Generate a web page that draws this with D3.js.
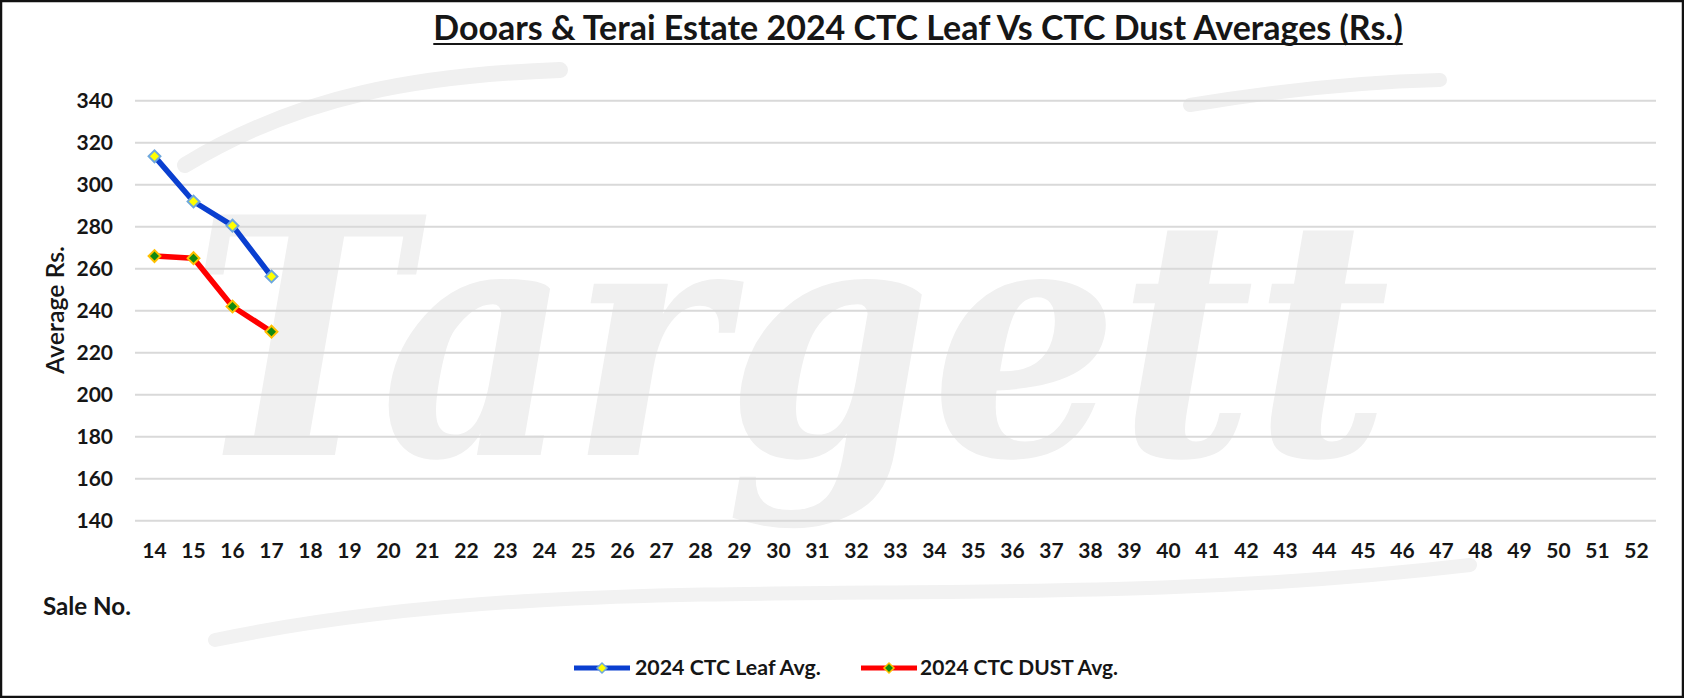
<!DOCTYPE html>
<html><head><meta charset="utf-8">
<script src="https://cdn.jsdelivr.net/npm/d3@7"></script>
<style>html,body{margin:0;padding:0;background:#fff;}svg{display:block;}</style>
</head><body><svg id="c" width="1684" height="698"></svg>
<script>
const saleNos = d3.range(14, 53).map(String);
const leafSales = ["14","15","16","17"];
const leafAvg = [313.5, 292, 280.5, 256.3];
const dustSales = ["14","15","16","17"];
const dustAvg = [266, 265, 242, 230];
const yTicks = [140,160,180,200,220,240,260,280,300,320,340];
const titleText = "Dooars & Terai Estate 2024 CTC Leaf Vs CTC Dust Averages (Rs.)";
const leafName = "2024 CTC Leaf Avg.";
const dustName = "2024 CTC DUST Avg.";

const W = 1684, H = 698;
const svg = d3.select("#c");
const FONT = "Lato, 'Open Sans', sans-serif";
const INK = "#161616";

function fit(sel, target){
  const fs = +sel.attr("font-size");
  const w = sel.node().getComputedTextLength();
  sel.attr("font-size", fs*target/w);
  return sel;
}

svg.append("rect").attr("x",0).attr("y",0).attr("width",W).attr("height",H).attr("fill","#fff");

// watermark
const wm = svg.append("g").attr("pointer-events","none");
wm.append("path").attr("d","M185,165 C300,95 420,75 560,70").attr("fill","none").attr("stroke","#f0f0f0").attr("stroke-width",16).attr("stroke-linecap","round");
wm.append("path").attr("d","M1190,105 C1280,90 1360,82 1440,80").attr("fill","none").attr("stroke","#f0f0f0").attr("stroke-width",14).attr("stroke-linecap","round");
wm.append("path").attr("d","M215,640 C600,560 1000,620 1470,565").attr("fill","none").attr("stroke","#f2f2f2").attr("stroke-width",14).attr("stroke-linecap","round");
wm.append("text").attr("x",190).attr("y",455).attr("font-family","'DejaVu Serif', serif").attr("font-weight","bold").attr("font-style","italic")
  .attr("font-size",330).attr("fill","#f0f0f0").attr("textLength",1200).attr("lengthAdjust","spacingAndGlyphs").text("Targett");

const x = d3.scaleBand().domain(saleNos).range([135, 1656]);
const y = d3.scaleLinear().domain([140, 340]).range([520.7, 100.7]);

// gridlines
svg.append("g").selectAll("line").data(yTicks).join("line")
  .attr("x1",135).attr("x2",1656).attr("y1",d=>y(d)).attr("y2",d=>y(d))
  .attr("stroke","#d9d9d9").attr("stroke-width",2);

// y axis
const yAxis = svg.append("g").attr("transform","translate(122,0)")
  .call(d3.axisLeft(y).tickValues(yTicks).tickSize(0).tickPadding(0));
yAxis.select(".domain").remove();
yAxis.selectAll("text").attr("font-family",FONT).attr("font-weight","bold").attr("font-size",21).attr("fill",INK).attr("x",-9);

// x axis
const xAxis = svg.append("g").attr("transform","translate(0,540)")
  .call(d3.axisBottom(x).tickSize(0).tickPadding(0));
xAxis.select(".domain").remove();
xAxis.selectAll("text").attr("font-family",FONT).attr("font-weight","bold").attr("font-size",21).attr("fill",INK).attr("dy","0.71em").attr("y",3);

// axis titles
fit(svg.append("text").attr("transform","translate(55,310) rotate(-90)").attr("text-anchor","middle").attr("dy","0.35em")
  .attr("font-family",FONT).attr("font-weight","600").attr("font-size",20).attr("fill",INK).text("Average Rs."), 128);
fit(svg.append("text").attr("x",43).attr("y",615).attr("font-family",FONT).attr("font-weight","bold").attr("font-size",19).attr("fill",INK).text("Sale No."), 88);

// title
const t = svg.append("text").attr("x",918).attr("y",40).attr("text-anchor","middle")
  .attr("font-family",FONT).attr("font-weight","bold").attr("font-size",28).attr("fill",INK).text(titleText);
fit(t, 970);
const tb = t.node().getBBox();
svg.append("line").attr("x1",tb.x).attr("x2",tb.x+tb.width).attr("y1",44).attr("y2",44).attr("stroke",INK).attr("stroke-width",2);

// series
const line = d3.line().x(d=>x(d[0])+x.bandwidth()/2).y(d=>y(d[1]));
function drawSeries(sales, vals, color, mFill, mStroke){
  const pts = sales.map((s,i)=>[s, vals[i]]);
  svg.append("path").datum(pts).attr("d",line).attr("fill","none").attr("stroke",color).attr("stroke-width",5.5).attr("stroke-linejoin","round");
  svg.append("g").selectAll("path").data(pts).join("path")
    .attr("d", d3.symbol().type(d3.symbolSquare).size(70))
    .attr("transform",d=>`translate(${x(d[0])+x.bandwidth()/2},${y(d[1])}) rotate(45)`)
    .attr("fill",mFill).attr("stroke",mStroke).attr("stroke-width",2);
}
drawSeries(leafSales, leafAvg, "#0a3fd0", "#ffff00", "#6fa8dc");
drawSeries(dustSales, dustAvg, "#ff0000", "#118a11", "#ffc000");

// legend
function legendItem(x0, x1, tx, tw, color, mFill, mStroke, label){
  const ly = 668;
  svg.append("line").attr("x1",x0).attr("x2",x1).attr("y1",ly).attr("y2",ly).attr("stroke",color).attr("stroke-width",5);
  svg.append("path").attr("d", d3.symbol().type(d3.symbolSquare).size(50)).attr("transform",`translate(${(x0+x1)/2},${ly}) rotate(45)`)
    .attr("fill",mFill).attr("stroke",mStroke).attr("stroke-width",1.5);
  fit(svg.append("text").attr("x",tx).attr("y",ly).attr("dy","0.35em").attr("font-family",FONT).attr("font-weight","bold").attr("font-size",17).attr("fill",INK).text(label), tw);
}
legendItem(574, 630, 635, 186, "#0a3fd0", "#ffff00", "#6fa8dc", leafName);
legendItem(861, 917, 920, 198, "#ff0000", "#118a11", "#ffc000", dustName);

// border
svg.append("rect").attr("x",1).attr("y",1).attr("width",W-2).attr("height",H-2).attr("fill","none").attr("stroke","#111").attr("stroke-width",2.5);
</script></body></html>
